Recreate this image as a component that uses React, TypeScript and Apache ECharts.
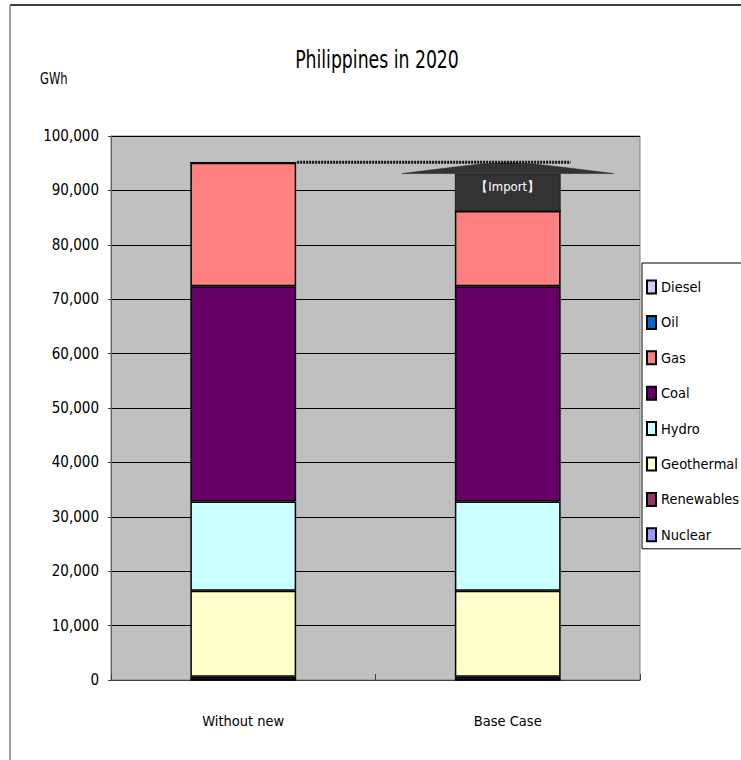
import React, { useEffect, useRef } from "react";
import * as echarts from "echarts";

// Generation mix, GWh, stacked from the bottom up
const categories = ["Without new", "Base Case"];
const nuclear = [0, 0];
const renewables = [600, 600];
const geothermal = [15800, 15800];
const hydro = [16400, 16400];
const coal = [39600, 39600];
const gas = [22700, 13800];
const oil = [0, 0];
const diesel = [0, 0];
// imported supply that closes the gap in the Base Case
const importBlock: (number | string)[] = ["-", 6900];
const demandTotal = 95100;

const yTicks = [0, 10000, 20000, 30000, 40000, 50000, 60000, 70000, 80000, 90000, 100000];
const legendOrder = ["Diesel", "Oil", "Gas", "Coal", "Hydro", "Geothermal", "Renewables", "Nuclear"];

const FONT = '"DejaVu Sans Condensed", "Liberation Sans Narrow", sans-serif';

export default function App() {
  const ref = useRef<HTMLDivElement>(null);

  useEffect(() => {
    if (!ref.current) return;
    const chart = echarts.init(ref.current, undefined, { renderer: "svg" });

    const seg = (name: string, data: (number | string)[], color: string) => ({
      name,
      type: "bar" as const,
      stack: "mix",
      data,
      barWidth: "40%",
      itemStyle: { color, borderColor: "#000", borderWidth: 1.5 },
    });

    chart.setOption({
      animation: false,
      backgroundColor: "#fff",
      textStyle: { fontFamily: FONT },
      grid: { left: 111, top: 136, right: 101, bottom: 80, show: true, backgroundColor: "#C0C0C0", borderColor: "#808080", borderWidth: 1 },
      legend: {
        orient: "vertical",
        left: 642,
        top: 263,
        data: legendOrder,
        icon: "rect",
        itemWidth: 9,
        itemHeight: 13,
        itemGap: 15.4,
        backgroundColor: "#fff",
        borderColor: "#000",
        borderWidth: 1,
        borderRadius: 0,
        padding: [14, 40, 4, 4],
        textStyle: { fontFamily: FONT, fontSize: 14.5, color: "#000", lineHeight: 20 },
      },
      xAxis: {
        type: "category",
        data: categories,
        axisLine: { lineStyle: { color: "#404040", width: 1 } },
        axisTick: { show: true, inside: true, length: 6, lineStyle: { color: "#404040" } },
        axisLabel: { fontFamily: FONT, fontSize: 14.5, color: "#000", margin: 33 },
      },
      yAxis: {
        type: "value",
        min: yTicks[0],
        max: yTicks[yTicks.length - 1],
        interval: yTicks[1] - yTicks[0],
        axisLine: { show: true, lineStyle: { color: "#606060" } },
        axisTick: { show: true, length: 3, lineStyle: { color: "#404040" } },
        axisLabel: {
          fontFamily: FONT,
          fontSize: 15,
          color: "#000",
          margin: 12,
          formatter: (v: number) => v.toLocaleString("en-US"),
        },
        splitLine: { lineStyle: { color: "#000", width: 1 } },
      },
      series: [
        seg("Nuclear", nuclear, "#9999FF"),
        seg("Renewables", renewables, "#993366"),
        seg("Geothermal", geothermal, "#FFFFCC"),
        seg("Hydro", hydro, "#CCFFFF"),
        seg("Coal", coal, "#660066"),
        seg("Gas", gas, "#FF8080"),
        seg("Oil", oil, "#0066CC"),
        seg("Diesel", diesel, "#CCCCFF"),
        {
          name: "Import",
          type: "bar",
          stack: "mix",
          data: importBlock,
          barWidth: "40%",
          itemStyle: { color: "#333333", borderColor: "#222", borderWidth: 1 },
          label: {
            show: true,
            position: "inside",
            formatter: "【Import】",
            color: "#fff",
            fontFamily: FONT,
            fontSize: 13,
            offset: [0, -6],
          },
          z: 3,
        },
      ],
    });

    // Arrow roof over the import block and the dotted demand line
    const p1 = chart.convertToPixel({ gridIndex: 0 }, [0, demandTotal]) as number[];
    const p2 = chart.convertToPixel({ gridIndex: 0 }, [1, demandTotal]) as number[];
    const half = (p2[0] - p1[0]) * 0.2;
    let importTop = 0;
    for (const s of [nuclear, renewables, geothermal, hydro, coal, gas, oil, diesel]) importTop += s[1];
    importTop += importBlock[1] as number;
    const base = chart.convertToPixel({ gridIndex: 0 }, [1, importTop]) as number[];
    const cx = p2[0];
    const yb = base[1];
    const yp = p2[1];
    const roof = [
      [cx - 2 * half, yb],
      [cx - 1.5 * half, yb - (yb - yp) * 0.3],
      [cx - half, yb - (yb - yp) * 0.6],
      [cx - 0.5 * half, yb - (yb - yp) * 0.88],
      [cx, yp],
      [cx + 0.5 * half, yb - (yb - yp) * 0.88],
      [cx + half, yb - (yb - yp) * 0.6],
      [cx + 1.5 * half, yb - (yb - yp) * 0.3],
      [cx + 2 * half, yb],
    ];

    chart.setOption({
      graphic: [
        { type: "line", shape: { x1: 10, y1: 5, x2: 741, y2: 5 }, style: { stroke: "#404040", lineWidth: 2 } },
        { type: "line", shape: { x1: 10, y1: 5, x2: 10, y2: 760 }, style: { stroke: "#808080", lineWidth: 1.5 } },
        {
          type: "text",
          x: 377,
          y: 60,
          scaleX: 0.8,
          style: { text: "Philippines in 2020", fontFamily: FONT, fontSize: 24, fill: "#000", textAlign: "center", textVerticalAlign: "middle" },
        },
        {
          type: "text",
          x: 40,
          y: 78,
          scaleX: 0.8,
          style: { text: "GWh", fontFamily: FONT, fontSize: 16, fill: "#000", textAlign: "left", textVerticalAlign: "middle" },
        },
        { type: "polygon", shape: { points: roof }, style: { fill: "#333333", stroke: "#222", lineWidth: 0.5 }, z: 10 },
        {
          type: "line",
          shape: { x1: p1[0] + half + 1, y1: yp - 0.5, x2: cx + half + 10, y2: yp - 0.5 },
          style: { stroke: "#111", lineWidth: 3, lineDash: [2, 1] },
          z: 11,
        },
      ],
    });

    return () => chart.dispose();
  }, []);

  return <div ref={ref} style={{ position: "absolute", left: 0, top: 0, width: 741, height: 760 }} />;
}
